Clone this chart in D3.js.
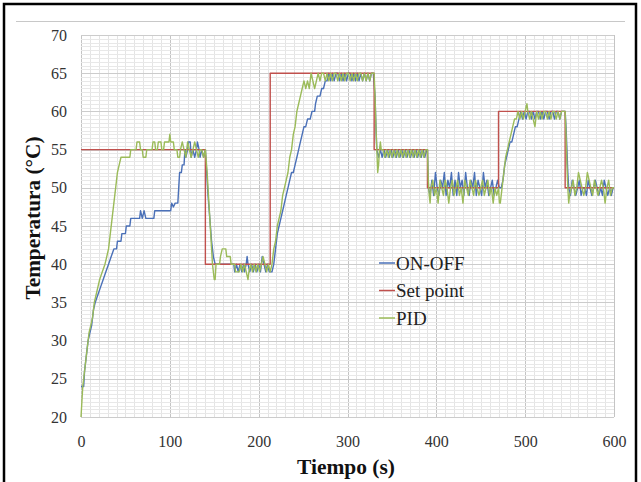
<!DOCTYPE html>
<html><head><meta charset="utf-8">
<script src="https://cdn.jsdelivr.net/npm/d3@7/dist/d3.min.js"></script>
<style>body{margin:0;background:#fff}svg{display:block}</style>
</head><body>
<svg id="c" width="641" height="482"></svg>
<script>
const seriesNames = ["ON-OFF", "Set point", "PID"];
const xTicks = [0, 100, 200, 300, 400, 500, 600];
const yTicks = [20, 25, 30, 35, 40, 45, 50, 55, 60, 65, 70];

const setpointData = [[0,55],[140,55],[140,40],[213,40],[213,65],[330,65],[330,55],[390,55],[390,50],[470,50],[470,60],[545,60],[545,50],[600,50]];

const onoffData = [[0,24],[3,24],[4,26],[6,28],[8,30],[10,31],[12,32],[14,34],[16,35],[19,36],[22,37],[25,38],[28,39],[31,40],[34,41],[37,42],[40,42],[41,43],[45,43],[46,44],[50,44],[51,45],[55,45],[56,46],[66,46],[67,47],[69,46],[71,47],[73,46],[82,46],[83,47],[101,47],[102,48],[104,47.5],[106,48],[109,48],[110,50],[111,52],[113,52],[114,53],[116,53],[117,55],[118,54],[120,55],[121,56],[123,56],[124,54],[126,55],[128,54],[130,55],[131,56],[133,55],[134,54],[136,55],[138,54],[140,55],
[141,53],[143,49],[145,46],[147,43],[149,41],[151,40],[172,40],[173,39],[175,40],[177,39],[179,40],[181,39],[183,40],[184,39],[186,40],[187,41],[188,40],[190,39],[192,40],[194,39],[196,40],[198,39],[200,40],[202,39],[204,41],[206,40],[208,39],[210,40],[212,39],[215,39],
[217,40],[219,42],[221,44],[223,45],[225,46],[227,47],[229,48],[231,49],[233,50],[235,51],[237,52],[239,52],[241,53],[243,54],[245,55],[247,56],[249,57],[251,58],[253,58],[255,59],[258,59],[260,60],[263,60],[264,61],[266,62],[269,62],[271,63],[273,63],[275,64],[277,64],[279,65],
[281,64],[283,65],[285,64],[287,65],[289,65],[291,64],[293,65],[295,64],[297,65],[299,64],[301,65],[303,65],[305,64],[307,65],[309,64],[311,65],[313,64],[315,65],[317,64],[319,65],[321,64],[323,65],[325,64],[327,65],[329,65],
[331,62],[332,58],[333,55],[335,54],[337,55],[339,54],[341,55],[343,54],[345,55],[347,54],[349,55],[351,54],[353,55],[355,54],[357,55],[359,54],[361,55],[363,54],[365,55],[367,54],[369,55],[371,54],[373,55],[375,54],[377,55],[379,54],[381,55],[383,54],[385,55],[387,54],[389,55],
[390,55],[391,50],[393,49],[395,51],[397,49],[399,52],[401,50],[403,49],[405,51],[407,50],[409,52],[411,49],[413,51],[415,50],[417,52],[419,49],[421,51],[423,49],[425,52],[427,50],[429,51],[431,49],[433,52],[435,50],[437,49],[439,51],[441,50],[443,52],[445,49],[447,51],[449,50],[451,49],[453,52],[455,50],[457,51],[459,49],[461,50],[463,51],[465,49],[467,50],[469,51],[471,50],[473,50],
[475,51],[477,53],[479,54],[481,55],[483,56],[485,56],[487,57],[489,58],[491,58],[493,59],[495,60],[497,59],[499,60],[501,59],[503,60],[505,60],[507,59],[509,60],[511,59],[513,60],[515,60],[517,59],[519,60],[521,59],[523,60],[525,60],[527,59],[529,60],[531,60],[533,59],[535,60],[537,60],[539,59],[541,60],[543,60],[545,60],
[546,58],[547,55],[548,52],[549,50],[551,49],[553,51],[555,50],[557,49],[559,50],[561,51],[563,49],[565,50],[567,50],[569,49],[571,51],[573,50],[575,49],[577,50],[579,51],[581,50],[583,49],[585,50],[587,49],[589,51],[591,50],[593,49],[595,50],[597,49],[599,50],[600,50]];

const pidData = [[0,20],[1,22],[2,24],[3,25],[5,27],[7,29],[9,31],[11,32],[13,33],[15,35],[17,36],[19,37],[21,38],[24,39],[27,40],[29,41],[31,42],[33,44],[35,46],[37,48],[39,50],[41,52],[43,53],[45,54],[55,54],[56,55],[62,55],[63,56],[66,56],[67,55],[69,55],[70,54],[73,54],[74,55],[80,55],[81,56],[83,56],[84,55],[86,55],[87,56],[90,56],[91,55],[93,55],[94,56],[99,56],[100,57],[101,56],[104,56],[105,55],[108,55],[109,54],[111,54],[112,55],[114,56],[116,55],[118,54],[120,56],[122,55],[124,54],[126,55],[128,56],[130,55],[132,54],[134,55],[136,55],[138,54],[140,55],
[142,52],[144,48],[146,44],[148,40],[150,38],[151,38],[152,40],[156,40],[157,41],[159,42],[163,42],[164,41],[168,41],[169,40],[173,40],[174,39],[178,39],[180,40],[182,39],[184,40],[186,39],[188,38],[189,39],[191,40],[193,39],[195,40],[197,39],[199,40],[201,39],[203,40],[205,41],[207,40],[209,39],[211,40],[213,39],
[215,40],[217,42],[219,43],[221,45],[223,46],[225,47],[227,49],[229,50],[231,51],[233,52],[235,54],[237,55],[239,57],[241,58],[243,60],[245,61],[247,62],[249,63],[251,64],[253,63],[255,64],[257,63],[259,65],[261,64],[263,63],[265,64],[267,65],[269,64],[271,65],[273,65],[275,64],[277,65],[279,64],[281,65],[283,64],[285,65],[287,65],[289,64],[291,65],[293,64],[295,65],[297,64],[299,65],[301,65],[303,64],[305,65],[307,64],[309,65],[311,64],[313,65],[315,65],[317,64],[319,65],[321,64],[323,65],[325,64],[327,65],[329,65],[330,65],
[331,62],[332,58],[333,55],[334,52],[335,53],[336,55],[337,56],[338,55],[340,55],[342,54],[344,55],[346,54],[348,55],[350,54],[352,55],[354,54],[356,55],[358,54],[360,55],[362,54],[364,55],[366,54],[368,55],[370,54],[372,55],[374,54],[376,55],[378,54],[380,55],[382,54],[384,55],[386,54],[388,55],[390,55],
[391,51],[392,49],[393,48],[394,50],[396,51],[398,49],[400,50],[402,48],[404,51],[406,50],[408,49],[410,51],[412,50],[414,48],[416,50],[418,51],[420,49],[422,50],[424,51],[426,49],[428,50],[430,48],[432,51],[434,50],[436,49],[438,51],[440,50],[442,49],[444,51],[446,50],[448,49],[450,50],[452,51],[454,49],[456,50],[458,51],[460,49],[462,50],[464,48],[466,50],[468,49],[470,50],[471,48],[472,48],
[474,50],[476,52],[478,54],[480,55],[482,56],[484,57],[486,58],[488,59],[490,59],[492,60],[494,59],[496,60],[498,59],[500,60],[502,61],[503,60],[505,59],[507,60],[509,59],[511,58],[513,60],[515,59],[517,60],[519,59],[521,60],[523,60],[525,59],[527,60],[529,59],[531,60],[533,60],[535,59],[537,60],[539,59],[541,60],[543,60],[545,60],
[546,57],[547,53],[548,50],[549,48],[550,49],[552,50],[554,51],[556,49],[558,50],[560,52],[562,51],[564,50],[566,49],[568,50],[570,52],[572,51],[574,50],[576,49],[578,51],[580,50],[582,49],[584,50],[586,51],[588,50],[590,48],[592,50],[594,51],[596,49],[598,50],[600,50]];

const colors = ["#4a70b8", "#c0504d", "#9bbb59"];
const serif = "Liberation Serif";

const svg = d3.select("#c");
const L = 81, R = 614, T = 35, B = 417;
const x = d3.scaleLinear().domain([0, 600]).range([L, R]);
const y = d3.scaleLinear().domain([20, 70]).range([B, T]);

// outer frame
svg.append("rect").attr("x", 4).attr("y", 4).attr("width", 632).attr("height", 492)
  .attr("fill", "#fff").attr("stroke", "#000").attr("stroke-width", 2.5);
svg.append("line").attr("x1", 16).attr("x2", 625).attr("y1", 21.5).attr("y2", 21.5)
  .attr("stroke", "#c8c8c8").attr("stroke-width", 1);

// grid
const g = svg.append("g");
g.selectAll(".vm").data(d3.range(0, 601, 10)).join("line")
  .attr("x1", d => Math.round(x(d)) + 0.5).attr("x2", d => Math.round(x(d)) + 0.5)
  .attr("y1", T).attr("y2", B)
  .attr("stroke", d => d % 100 === 0 ? "#c4c4c4" : "#e4e4e4").attr("stroke-width", 1);
g.selectAll(".hm").data(d3.range(20, 70.01, 0.5)).join("line")
  .attr("y1", d => Math.round(y(d)) + 0.5).attr("y2", d => Math.round(y(d)) + 0.5)
  .attr("x1", L).attr("x2", R)
  .attr("stroke", d => d % 5 === 0 ? "#cccccc" : "#e8e8e8").attr("stroke-width", 1);

// axes
const xAxis = d3.axisBottom(x).tickValues(xTicks).tickSize(0).tickPadding(19);
const yAxis = d3.axisLeft(y).tickValues(yTicks).tickSize(0).tickPadding(14);
const ax = svg.append("g").attr("transform", `translate(0,${B})`).call(xAxis);
const ay = svg.append("g").attr("transform", `translate(${L},0)`).call(yAxis);
[ax, ay].forEach(a => {
  a.attr("font-family", serif).attr("font-size", 16);
  a.select(".domain").remove();
  a.selectAll("text").style("font-family", serif).style("font-size", "16px").attr("fill", "#333");
});

// lines
const line = d3.line().x(d => x(d[0])).y(d => y(d[1]));
const allData = [onoffData, setpointData, pidData];
svg.append("g").selectAll("path").data(allData).join("path")
  .attr("d", line).attr("fill", "none")
  .attr("stroke", (d, i) => colors[i]).attr("stroke-width", 1.4)
  .attr("stroke-linejoin", "round");

// legend
const lg = svg.append("g");
seriesNames.forEach((n, i) => {
  const yy = 263 + i * 27.5;
  lg.append("line").attr("x1", 379).attr("x2", 395).attr("y1", yy).attr("y2", yy)
    .attr("stroke", colors[i]).attr("stroke-width", 1.5);
  lg.append("text").attr("x", 396).attr("y", yy + 6.5).text(n)
    .style("font-family", serif).style("font-size", "19px").attr("fill", "#222");
});

// titles
svg.append("text").attr("x", 346).attr("y", 474).attr("text-anchor", "middle")
  .style("font-family", serif).style("font-weight", "bold").style("font-size", "20px")
  .attr("textLength", 98).attr("lengthAdjust", "spacingAndGlyphs")
  .attr("fill", "#111").text("Tiempo (s)");
svg.append("text").attr("transform", "translate(40,218) rotate(-90)").attr("text-anchor", "middle")
  .style("font-family", serif).style("font-weight", "bold").style("font-size", "21px")
  .attr("textLength", 163).attr("lengthAdjust", "spacingAndGlyphs")
  .attr("fill", "#111").text("Temperatura (°C)");
</script>
</body></html>
